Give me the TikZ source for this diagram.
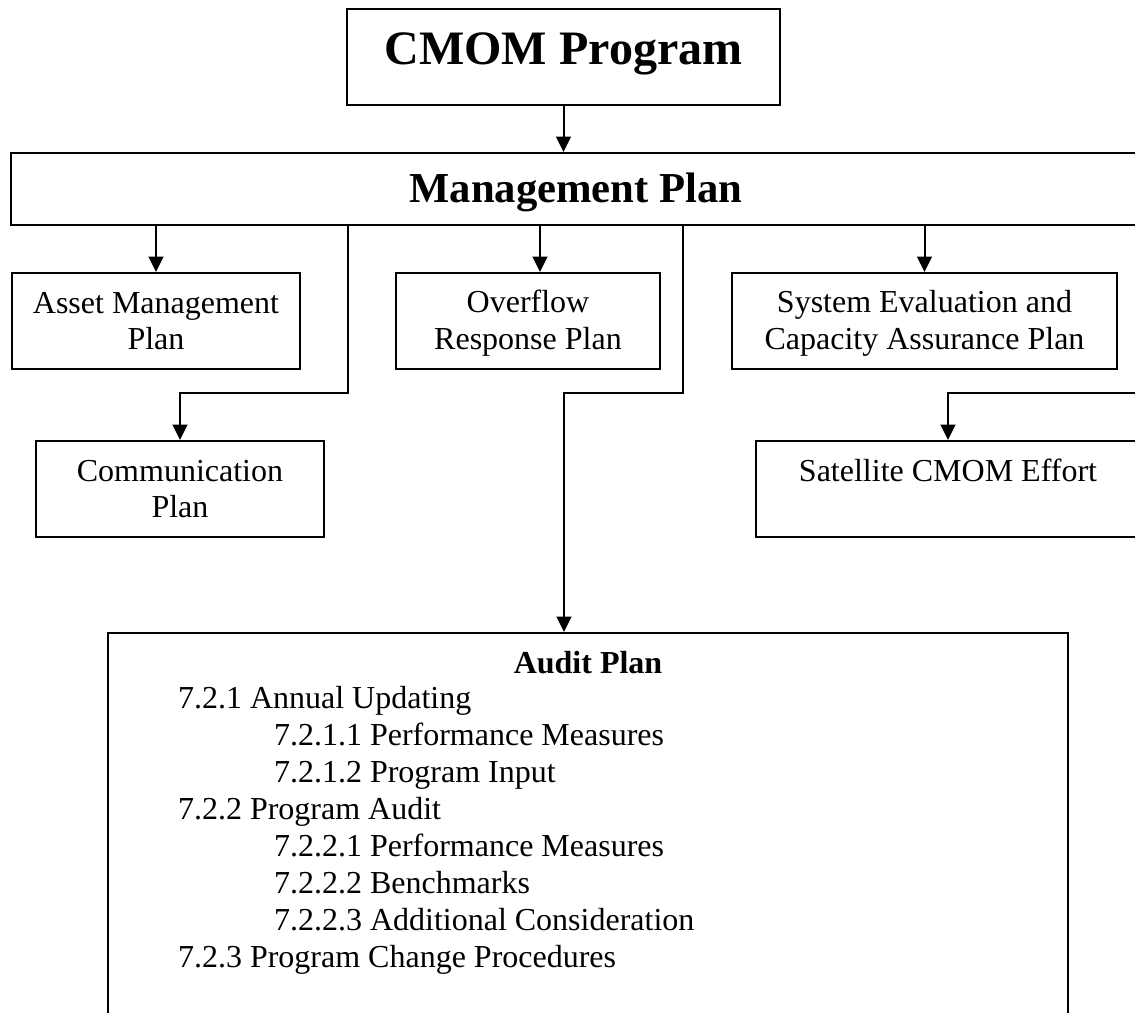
\documentclass[tikz,border=0pt]{standalone}
\usepackage{fontspec}
\setmainfont{Liberation Serif}
\usetikzlibrary{arrows.meta}

% strut that fixes the baselines of two-line box labels
\newcommand{\bxstrut}{\rule[-4.4pt]{0pt}{24.4pt}}

\begin{document}
\begin{tikzpicture}[
  x=0.75pt, y=-0.75pt,
  line width=1.5pt,
  arr/.style={-{Triangle[length=11.5pt,width=11pt]}},
  planbox/.style={draw, rectangle, inner sep=0pt, align=center,
    font=\fontsize{24}{27.6}\selectfont},
  listline/.style={anchor=base west, inner sep=0pt,
    font=\fontsize{24}{27.6}\selectfont}
]
\useasboundingbox (0,0) rectangle (1135,1013);
\clip (0,0) rectangle (1135,1013);

% top of the hierarchy
\node[draw, inner sep=0pt, minimum width=324.75pt, minimum height=72pt,
      text height=26pt, text depth=14pt,
      font=\fontsize{36}{41.4}\selectfont\bfseries]
  (cmom) at (563.5,57) {CMOM Program};
\node[draw, inner sep=0pt, minimum width=847.5pt, minimum height=54pt,
      text height=28pt, text depth=7pt,
      font=\fontsize{32}{36.8}\selectfont\bfseries]
  (mgmt) at (576,189) {Management Plan};

% first row of plans
\node[planbox, minimum width=216pt, minimum height=72pt] (asset) at (156,321)
  {\bxstrut Asset Management\\Plan\bxstrut};
\node[planbox, minimum width=198pt, minimum height=72pt] (ovr) at (528,321)
  {\bxstrut Overflow\\Response Plan\bxstrut};
\node[planbox, minimum width=288.75pt, minimum height=72pt] (sys) at (924.5,321)
  {\bxstrut System Evaluation and\\Capacity Assurance Plan\bxstrut};

% second row
\node[planbox, minimum width=216pt, minimum height=72pt] (comm) at (180,489)
  {\bxstrut Communication\\Plan\bxstrut};
\node[planbox, minimum width=288pt, minimum height=72pt] (sat) at (948,489)
  {\bxstrut Satellite CMOM Effort\\\bxstrut};

% audit plan box and its outline
\node[draw, rectangle, inner sep=0pt, minimum width=720pt, minimum height=320.25pt]
  (audit) at (588,846.5) {};
\node[anchor=base, inner sep=0pt, font=\fontsize{24}{27.6}\selectfont\bfseries]
  (audittitle) at (588,673) {Audit Plan};
\node[listline] (a1) at (177,708) {7.2.1 Annual Updating};
\node[listline] (a2) at (273,745) {7.2.1.1 Performance Measures};
\node[listline] (a3) at (273,782) {7.2.1.2 Program Input};
\node[listline] (a4) at (177,819) {7.2.2 Program Audit};
\node[listline] (a5) at (273,856) {7.2.2.1 Performance Measures};
\node[listline] (a6) at (273,893) {7.2.2.2 Benchmarks};
\node[listline] (a7) at (273,930) {7.2.2.3 Additional Consideration};
\node[listline] (a8) at (177,967) {7.2.3 Program Change Procedures};

% junction points of the elbow connectors
\coordinate (jC) at (348,393);
\coordinate (jA) at (683,393);
\coordinate (jS) at (1139,393);

% connectors
\draw[arr] (cmom.south) -- (cmom.south |- mgmt.north);
\draw[arr] (asset.north |- mgmt.south) -- (asset.north);
\draw[arr] ([xshift=9pt]ovr.north |- mgmt.south) -- ([xshift=9pt]ovr.north);
\draw[arr] (sys.north |- mgmt.south) -- (sys.north);
\draw[arr] (jC |- mgmt.south) -- (jC) -| (comm.north);
\draw[arr] (jA |- mgmt.south) -- (jA) -| ([xshift=-18pt]audit.north);
\draw[arr] (jS |- mgmt.south) -- (jS) -| (sat.north);
\end{tikzpicture}
\end{document}
